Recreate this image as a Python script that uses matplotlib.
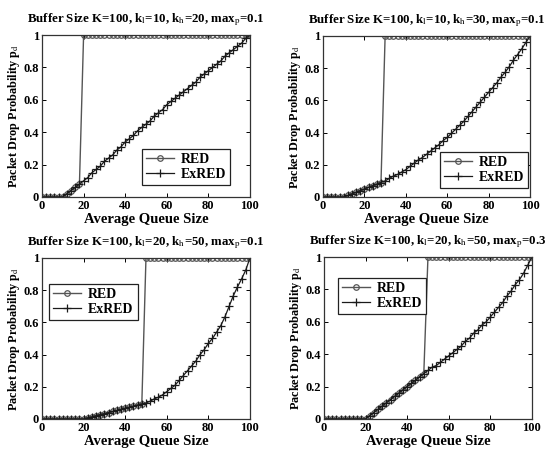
import matplotlib
matplotlib.use("Agg")
import matplotlib.pyplot as plt

plt.rcParams['font.family'] = ['Liberation Serif', 'DejaVu Serif']
plt.rcParams['mathtext.fontset'] = 'stix'

# Average queue size sample points
queue = [0, 2, 4, 6, 8, 10, 12, 14, 16, 18, 20, 22, 24, 26, 28, 30, 32, 34, 36, 38,
         40, 42, 44, 46, 48, 50, 52, 54, 56, 58, 60, 62, 64, 66, 68, 70, 72, 74, 76, 78,
         80, 82, 84, 86, 88, 90, 92, 94, 96, 98, 100]

titles = [
    r"Buffer Size K=100, k$_{\mathrm{l}}$=10, k$_{\mathrm{h}}$=20, max$_{\mathrm{p}}$=0.1",
    r"Buffer Size K=100, k$_{\mathrm{l}}$=10, k$_{\mathrm{h}}$=30, max$_{\mathrm{p}}$=0.1",
    r"Buffer Size K=100, k$_{\mathrm{l}}$=20, k$_{\mathrm{h}}$=50, max$_{\mathrm{p}}$=0.1",
    r"Buffer Size K=100, k$_{\mathrm{l}}$=20, k$_{\mathrm{h}}$=50, max$_{\mathrm{p}}$=0.3",
]

red_1 = [0, 0, 0, 0, 0, 0, 0.02, 0.04, 0.06, 0.08,
         1, 1, 1, 1, 1, 1, 1, 1, 1, 1, 1, 1, 1, 1, 1, 1, 1, 1, 1, 1, 1,
         1, 1, 1, 1, 1, 1, 1, 1, 1, 1, 1, 1, 1, 1, 1, 1, 1, 1, 1, 1]
exred_1 = [0, 0, 0, 0, 0, 0, 0.02, 0.04, 0.06, 0.08,
           0.10, 0.12, 0.15, 0.17, 0.19, 0.22, 0.24, 0.26, 0.29, 0.31,
           0.34, 0.36, 0.38, 0.41, 0.43, 0.45, 0.47, 0.50, 0.52, 0.54,
           0.57, 0.59, 0.61, 0.63, 0.65, 0.67, 0.69, 0.71, 0.74, 0.76,
           0.78, 0.80, 0.82, 0.84, 0.87, 0.89, 0.91, 0.93, 0.95, 0.98, 1.00]

red_2 = [0, 0, 0, 0, 0, 0, 0.01, 0.02, 0.03, 0.04, 0.05, 0.06, 0.07, 0.08, 0.09,
         1, 1, 1, 1, 1, 1, 1, 1, 1, 1, 1, 1, 1, 1, 1, 1, 1, 1, 1, 1,
         1, 1, 1, 1, 1, 1, 1, 1, 1, 1, 1, 1, 1, 1, 1, 1]
exred_2 = [0, 0, 0, 0, 0, 0, 0.01, 0.02, 0.03, 0.04, 0.05, 0.06, 0.07, 0.08, 0.09,
           0.10, 0.115, 0.13, 0.14, 0.155, 0.17, 0.19, 0.21, 0.23, 0.245,
           0.265, 0.285, 0.305, 0.325, 0.35, 0.37, 0.395, 0.42, 0.445, 0.47,
           0.50, 0.53, 0.56, 0.59, 0.62, 0.65, 0.68, 0.71, 0.745, 0.775,
           0.81, 0.85, 0.885, 0.92, 0.96, 1.00]

red_3 = [0, 0, 0, 0, 0, 0, 0, 0, 0, 0, 0,
         0.007, 0.013, 0.02, 0.027, 0.033, 0.04, 0.047, 0.053, 0.06, 0.067,
         0.073, 0.08, 0.087, 0.093,
         1, 1, 1, 1, 1, 1, 1, 1, 1, 1, 1, 1, 1, 1, 1, 1, 1, 1, 1, 1, 1, 1, 1, 1, 1, 1]
exred_3 = [0, 0, 0, 0, 0, 0, 0, 0, 0, 0, 0,
           0.007, 0.013, 0.02, 0.027, 0.033, 0.04, 0.047, 0.053, 0.06, 0.067,
           0.073, 0.08, 0.087, 0.093,
           0.10, 0.11, 0.125, 0.135, 0.15, 0.17, 0.19, 0.21, 0.24, 0.27,
           0.30, 0.33, 0.36, 0.40, 0.43, 0.47, 0.50, 0.54, 0.58, 0.635,
           0.70, 0.765, 0.82, 0.87, 0.925, 1.00]

red_4 = [0, 0, 0, 0, 0, 0, 0, 0, 0, 0, 0,
         0.02, 0.04, 0.06, 0.08, 0.10, 0.12, 0.14, 0.16, 0.18, 0.20,
         0.22, 0.24, 0.26, 0.28,
         1, 1, 1, 1, 1, 1, 1, 1, 1, 1, 1, 1, 1, 1, 1, 1, 1, 1, 1, 1, 1, 1, 1, 1, 1, 1]
exred_4 = [0, 0, 0, 0, 0, 0, 0, 0, 0, 0, 0,
           0.02, 0.04, 0.06, 0.08, 0.10, 0.12, 0.14, 0.16, 0.18, 0.20,
           0.22, 0.24, 0.26, 0.28,
           0.30, 0.32, 0.33, 0.35, 0.37, 0.39, 0.41, 0.43, 0.45, 0.48,
           0.50, 0.53, 0.55, 0.58, 0.60, 0.63, 0.66, 0.69, 0.72, 0.76,
           0.79, 0.83, 0.86, 0.90, 0.95, 1.00]

red_series = [red_1, red_2, red_3, red_4]
exred_series = [exred_1, exred_2, exred_3, exred_4]

x_ticks = [0, 20, 40, 60, 80, 100]
y_ticks = [0, 0.2, 0.4, 0.6, 0.8, 1]
y_tick_labels = ["0", "0.2", "0.4", "0.6", "0.8", "1"]

# layout (figure fractions) and legend anchors (axes fractions)
positions = [
    [0.0764, 0.5632, 0.378, 0.359],
    [0.5873, 0.5632, 0.3764, 0.357],
    [0.0764, 0.0710, 0.378, 0.357],
    [0.5891, 0.0710, 0.378, 0.359],
]
legend_anchor = [(0.48, 0.074), (0.565, 0.056), (0.034, 0.615), (0.067, 0.648)]

fig = plt.figure(figsize=(5.5, 4.51), dpi=100)
fig.patch.set_facecolor('white')

for i in range(4):
    ax = fig.add_axes(positions[i])
    ax.plot(queue, red_series[i], color='#555555', lw=1.0, marker='o',
            markersize=4, markerfacecolor='none', markeredgewidth=0.9, label='RED')
    ax.plot(queue, exred_series[i], color='#1a1a1a', lw=0.9, marker='+',
            markersize=6, markeredgewidth=0.9, label='ExRED')
    ax.set_xlim(0, 100)
    ax.set_ylim(0, 1)
    ax.set_xticks(x_ticks)
    ax.set_xticklabels([str(t) for t in x_ticks], fontweight='bold', fontsize=9)
    ax.set_yticks(y_ticks)
    ax.set_yticklabels(y_tick_labels, fontweight='bold', fontsize=9)
    ax.tick_params(direction='in', top=True, right=True, length=3, width=0.7, pad=2)
    for s in ax.spines.values():
        s.set_linewidth(0.9)
        s.set_color('#333333')
    ax.set_title(titles[i], fontsize=9.3, fontweight='bold', pad=9)
    ax.set_xlabel("Average Queue Size", fontsize=10.5, fontweight='bold', labelpad=1)
    ax.set_ylabel(r"Packet Drop Probability p$_{\mathrm{d}}$", fontsize=8.8,
                  fontweight='bold', labelpad=1)
    leg = ax.legend(loc='lower left', bbox_to_anchor=legend_anchor[i],
                    prop={'family': 'Liberation Serif', 'weight': 'bold', 'size': 10},
                    fancybox=False, framealpha=1, edgecolor='#222222',
                    handlelength=2.0, borderpad=0.3, labelspacing=0.15,
                    handletextpad=0.5, borderaxespad=0)
    leg.get_frame().set_linewidth(0.9)

fig.savefig("out.png", dpi=100, facecolor='white')
